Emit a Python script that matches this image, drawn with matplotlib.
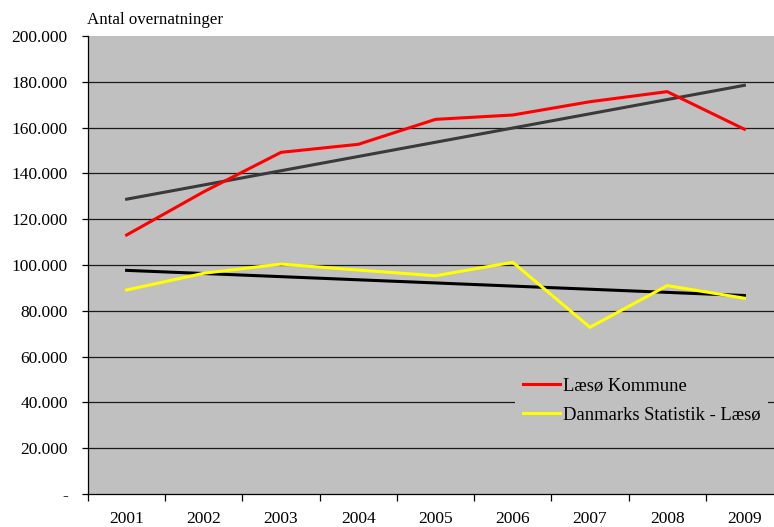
import matplotlib
matplotlib.use("Agg")
import matplotlib.pyplot as plt
import numpy as np
from matplotlib.ticker import FixedLocator, NullFormatter, FixedFormatter

# Data (overnight stays)
years = ["2001", "2002", "2003", "2004", "2005", "2006", "2007", "2008", "2009"]
laesoe_kommune = [113100, 132000, 149200, 152700, 163600, 165500, 171300, 175700, 159300]
danmarks_statistik = [89100, 96400, 100400, 97800, 95300, 101200, 72800, 91000, 85500]
y_ticks = [0, 20000, 40000, 60000, 80000, 100000, 120000, 140000, 160000, 180000, 200000]
y_labels = ["-", "20.000", "40.000", "60.000", "80.000", "100.000", "120.000",
            "140.000", "160.000", "180.000", "200.000"]

plt.rcParams["font.family"] = ["Liberation Serif", "DejaVu Serif"]

fig = plt.figure(figsize=(7.74, 5.27), dpi=100)
W, H = 774, 527
ax = fig.add_axes([88 / W, 33 / H, (783 - 88) / W, 458 / H])
ax.set_facecolor("#c0c0c0")

x = np.arange(len(years))

# Linear trend lines (as Excel would add them)
k1 = np.polyfit(x, laesoe_kommune, 1)
k2 = np.polyfit(x, danmarks_statistik, 1)
ax.plot(x, np.polyval(k1, x), color="#3a3a3a", linewidth=2.2, zorder=3)
ax.plot(x, np.polyval(k2, x), color="black", linewidth=2.2, zorder=3)

ax.plot(x, laesoe_kommune, color="red", linewidth=2.2, label="Læsø Kommune", zorder=4)
ax.plot(x, danmarks_statistik, color="yellow", linewidth=2.2,
        label="Danmarks Statistik - Læsø", zorder=4)

ax.set_xlim(-0.5, len(years) - 0.5)
ax.set_ylim(0, 200000)

# Category ticks between bars, labels centered
ax.xaxis.set_major_locator(FixedLocator(np.arange(-0.5, len(years), 1.0)))
ax.xaxis.set_major_formatter(NullFormatter())
ax.xaxis.set_minor_locator(FixedLocator(x))
ax.xaxis.set_minor_formatter(FixedFormatter(years))
ax.tick_params(axis="x", which="major", direction="out", length=5, width=0.9)
ax.tick_params(axis="x", which="minor", length=0, pad=12, labelsize=12.5)

ax.yaxis.set_major_locator(FixedLocator(y_ticks))
ax.yaxis.set_major_formatter(FixedFormatter(y_labels))
ax.tick_params(axis="y", direction="out", length=4.5, width=0.9, pad=10, labelsize=12.5)

for yv in y_ticks[1:-1]:
    ax.axhline(yv, color="#1a1a1a", linewidth=0.9, zorder=1)

for s in ["top", "right"]:
    ax.spines[s].set_visible(False)
ax.spines["left"].set_linewidth(0.9)
ax.spines["bottom"].set_linewidth(0.9)

fig.text(87 / W, 1 - 20 / H, "Antal overnatninger", fontsize=12.2, va="center", ha="left")

leg = ax.legend(loc="upper left", bbox_to_anchor=(506 / W, 1 - 361 / H),
                bbox_transform=fig.transFigure, frameon=True, fancybox=False,
                fontsize=13.4, handlelength=2.0, handletextpad=0.16, labelspacing=0.65,
                borderpad=0.4)
leg.get_frame().set_facecolor("#c0c0c0")
leg.get_frame().set_edgecolor("none")
leg.get_frame().set_alpha(1)
leg.set_zorder(5)

fig.savefig("out.png", dpi=100)
